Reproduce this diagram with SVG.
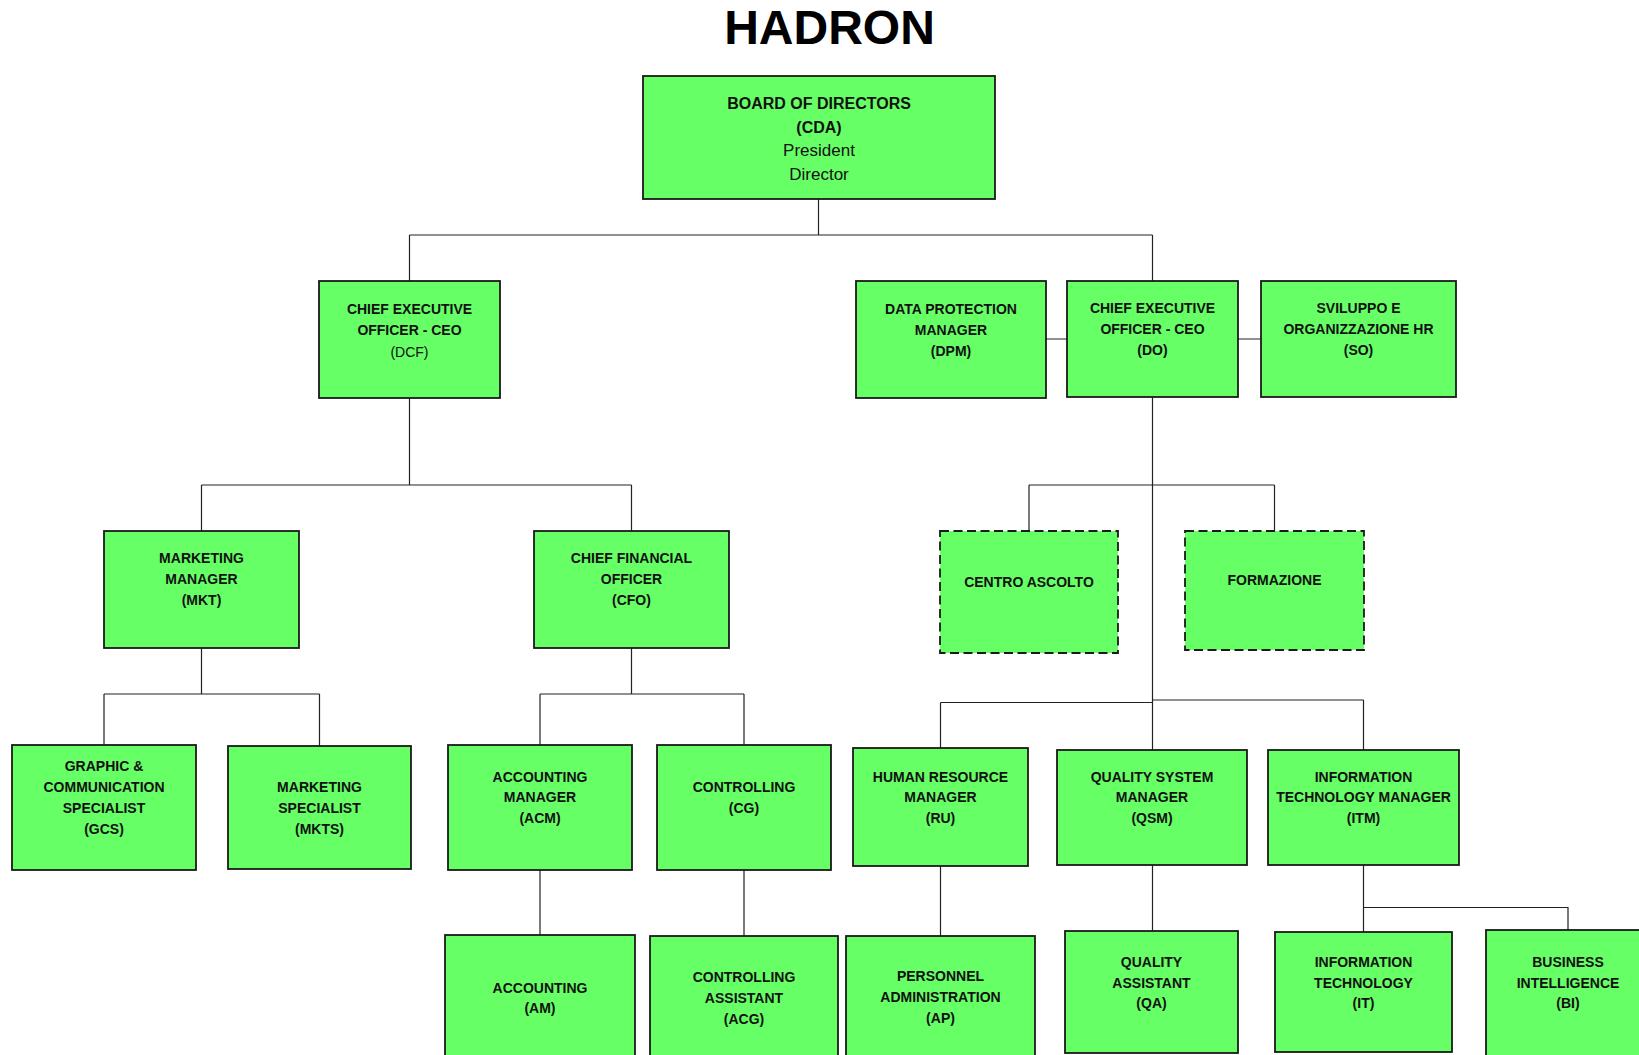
<svg xmlns="http://www.w3.org/2000/svg" width="1639" height="1055" viewBox="0 0 1639 1055">
<style>
  .bx { fill: #66ff66; stroke: #1a1a1a; stroke-width: 1.8; }
  .dash { stroke-dasharray: 9 4.5; }
  .t { font-family: "Liberation Sans", Arial, sans-serif; font-size: 14px; font-weight: bold; fill: #111; text-anchor: middle; }
  .n { font-weight: normal; }
  .big { font-size: 16px; }
  .bign { font-size: 17px; }
  .title { font-family: "Liberation Sans", Arial, sans-serif; font-size: 48px; font-weight: bold; fill: #000; text-anchor: middle; }
  .c { fill: none; stroke: #222; stroke-width: 1.2; }
</style>
<rect width="1639" height="1055" fill="#ffffff"/>
<text class="title" x="829.5" y="44">HADRON</text>

<g id="connectors">
  <path class="c" d="M818.5 199 V235 M409.5 235 H1152.5 M409.5 235 V281 M1152.5 235 V281"/>
  <path class="c" d="M1046 339 H1067 M1238 339 H1261"/>
  <path class="c" d="M409.5 398 V485 M201.5 485 H631.5 M201.5 485 V531 M631.5 485 V531"/>
  <path class="c" d="M1152.5 397 V750 M1029 485 H1274.5 M1029 485 V531 M1274.5 485 V531"/>
  <path class="c" d="M940.5 702.5 H1152.5 M1152.5 700 H1363.5 M940.5 702.5 V748 M1363.5 700 V750"/>
  <path class="c" d="M201.5 648 V694 M104 694 H319.5 M104 694 V745 M319.5 694 V746"/>
  <path class="c" d="M631.5 648 V694 M540 694 H744 M540 694 V745 M744 694 V745"/>
  <path class="c" d="M540 870 V935 M744 870 V936 M940.5 866 V936 M1152.5 865 V931"/>
  <path class="c" d="M1363.5 865 V932 M1363.5 907.5 H1568 V930"/>
</g>

<g id="node-cda">
  <rect class="bx" x="643" y="76" width="352" height="123"/>
  <text class="t big" x="819" y="109">BOARD OF DIRECTORS</text>
  <text class="t big" x="819" y="132.5">(CDA)</text>
  <text class="t bign n" x="819" y="156">President</text>
  <text class="t bign n" x="819" y="179.5">Director</text>
</g>

<g id="node-dcf">
  <rect class="bx" x="319" y="281" width="181" height="117"/>
  <text class="t" x="409.5" y="314">CHIEF EXECUTIVE</text>
  <text class="t" x="409.5" y="335">OFFICER - CEO</text>
  <text class="t n" x="409.5" y="357">(DCF)</text>
</g>

<g id="node-dpm">
  <rect class="bx" x="856" y="281" width="190" height="117"/>
  <text class="t" x="951" y="314">DATA PROTECTION</text>
  <text class="t" x="951" y="335">MANAGER</text>
  <text class="t" x="951" y="356">(DPM)</text>
</g>

<g id="node-do">
  <rect class="bx" x="1067" y="281" width="171" height="116"/>
  <text class="t" x="1152.5" y="313">CHIEF EXECUTIVE</text>
  <text class="t" x="1152.5" y="334">OFFICER - CEO</text>
  <text class="t" x="1152.5" y="355">(DO)</text>
</g>

<g id="node-so">
  <rect class="bx" x="1261" y="281" width="195" height="116"/>
  <text class="t" x="1358.5" y="313">SVILUPPO E</text>
  <text class="t" x="1358.5" y="334">ORGANIZZAZIONE HR</text>
  <text class="t" x="1358.5" y="355">(SO)</text>
</g>

<g id="node-mkt">
  <rect class="bx" x="104" y="531" width="195" height="117"/>
  <text class="t" x="201.5" y="563">MARKETING</text>
  <text class="t" x="201.5" y="584">MANAGER</text>
  <text class="t" x="201.5" y="605">(MKT)</text>
</g>

<g id="node-cfo">
  <rect class="bx" x="534" y="531" width="195" height="117"/>
  <text class="t" x="631.5" y="563">CHIEF FINANCIAL</text>
  <text class="t" x="631.5" y="584">OFFICER</text>
  <text class="t" x="631.5" y="605">(CFO)</text>
</g>

<g id="node-centro">
  <rect class="bx dash" x="940" y="531" width="178" height="122"/>
  <text class="t" x="1029" y="587">CENTRO ASCOLTO</text>
</g>

<g id="node-formazione">
  <rect class="bx dash" x="1185" y="531" width="179" height="119"/>
  <text class="t" x="1274.5" y="585">FORMAZIONE</text>
</g>

<g id="node-gcs">
  <rect class="bx" x="12" y="745" width="184" height="125"/>
  <text class="t" x="104" y="771">GRAPHIC &amp;</text>
  <text class="t" x="104" y="792">COMMUNICATION</text>
  <text class="t" x="104" y="813">SPECIALIST</text>
  <text class="t" x="104" y="834">(GCS)</text>
</g>

<g id="node-mkts">
  <rect class="bx" x="228" y="746" width="183" height="123"/>
  <text class="t" x="319.5" y="792">MARKETING</text>
  <text class="t" x="319.5" y="813">SPECIALIST</text>
  <text class="t" x="319.5" y="834">(MKTS)</text>
</g>

<g id="node-acm">
  <rect class="bx" x="448" y="745" width="184" height="125"/>
  <text class="t" x="540" y="782">ACCOUNTING</text>
  <text class="t" x="540" y="802">MANAGER</text>
  <text class="t" x="540" y="823">(ACM)</text>
</g>

<g id="node-cg">
  <rect class="bx" x="657" y="745" width="174" height="125"/>
  <text class="t" x="744" y="792">CONTROLLING</text>
  <text class="t" x="744" y="813">(CG)</text>
</g>

<g id="node-ru">
  <rect class="bx" x="853" y="748" width="175" height="118"/>
  <text class="t" x="940.5" y="782">HUMAN RESOURCE</text>
  <text class="t" x="940.5" y="802">MANAGER</text>
  <text class="t" x="940.5" y="823">(RU)</text>
</g>

<g id="node-qsm">
  <rect class="bx" x="1057" y="750" width="190" height="115"/>
  <text class="t" x="1152" y="782">QUALITY SYSTEM</text>
  <text class="t" x="1152" y="802">MANAGER</text>
  <text class="t" x="1152" y="823">(QSM)</text>
</g>

<g id="node-itm">
  <rect class="bx" x="1268" y="750" width="191" height="115"/>
  <text class="t" x="1363.5" y="782">INFORMATION</text>
  <text class="t" x="1363.5" y="802">TECHNOLOGY MANAGER</text>
  <text class="t" x="1363.5" y="823">(ITM)</text>
</g>

<g id="node-am">
  <rect class="bx" x="445" y="935" width="190" height="130"/>
  <text class="t" x="540" y="993">ACCOUNTING</text>
  <text class="t" x="540" y="1013">(AM)</text>
</g>

<g id="node-acg">
  <rect class="bx" x="650" y="936" width="188" height="130"/>
  <text class="t" x="744" y="982">CONTROLLING</text>
  <text class="t" x="744" y="1003">ASSISTANT</text>
  <text class="t" x="744" y="1024">(ACG)</text>
</g>

<g id="node-ap">
  <rect class="bx" x="846" y="936" width="189" height="130"/>
  <text class="t" x="940.5" y="981">PERSONNEL</text>
  <text class="t" x="940.5" y="1002">ADMINISTRATION</text>
  <text class="t" x="940.5" y="1023">(AP)</text>
</g>

<g id="node-qa">
  <rect class="bx" x="1065" y="931" width="173" height="122"/>
  <text class="t" x="1151.5" y="967">QUALITY</text>
  <text class="t" x="1151.5" y="988">ASSISTANT</text>
  <text class="t" x="1151.5" y="1008">(QA)</text>
</g>

<g id="node-it">
  <rect class="bx" x="1275" y="932" width="177" height="120"/>
  <text class="t" x="1363.5" y="967">INFORMATION</text>
  <text class="t" x="1363.5" y="988">TECHNOLOGY</text>
  <text class="t" x="1363.5" y="1008">(IT)</text>
</g>

<g id="node-bi">
  <rect class="bx" x="1486" y="930" width="170" height="130"/>
  <text class="t" x="1568" y="967">BUSINESS</text>
  <text class="t" x="1568" y="988">INTELLIGENCE</text>
  <text class="t" x="1568" y="1008">(BI)</text>
</g>
</svg>
